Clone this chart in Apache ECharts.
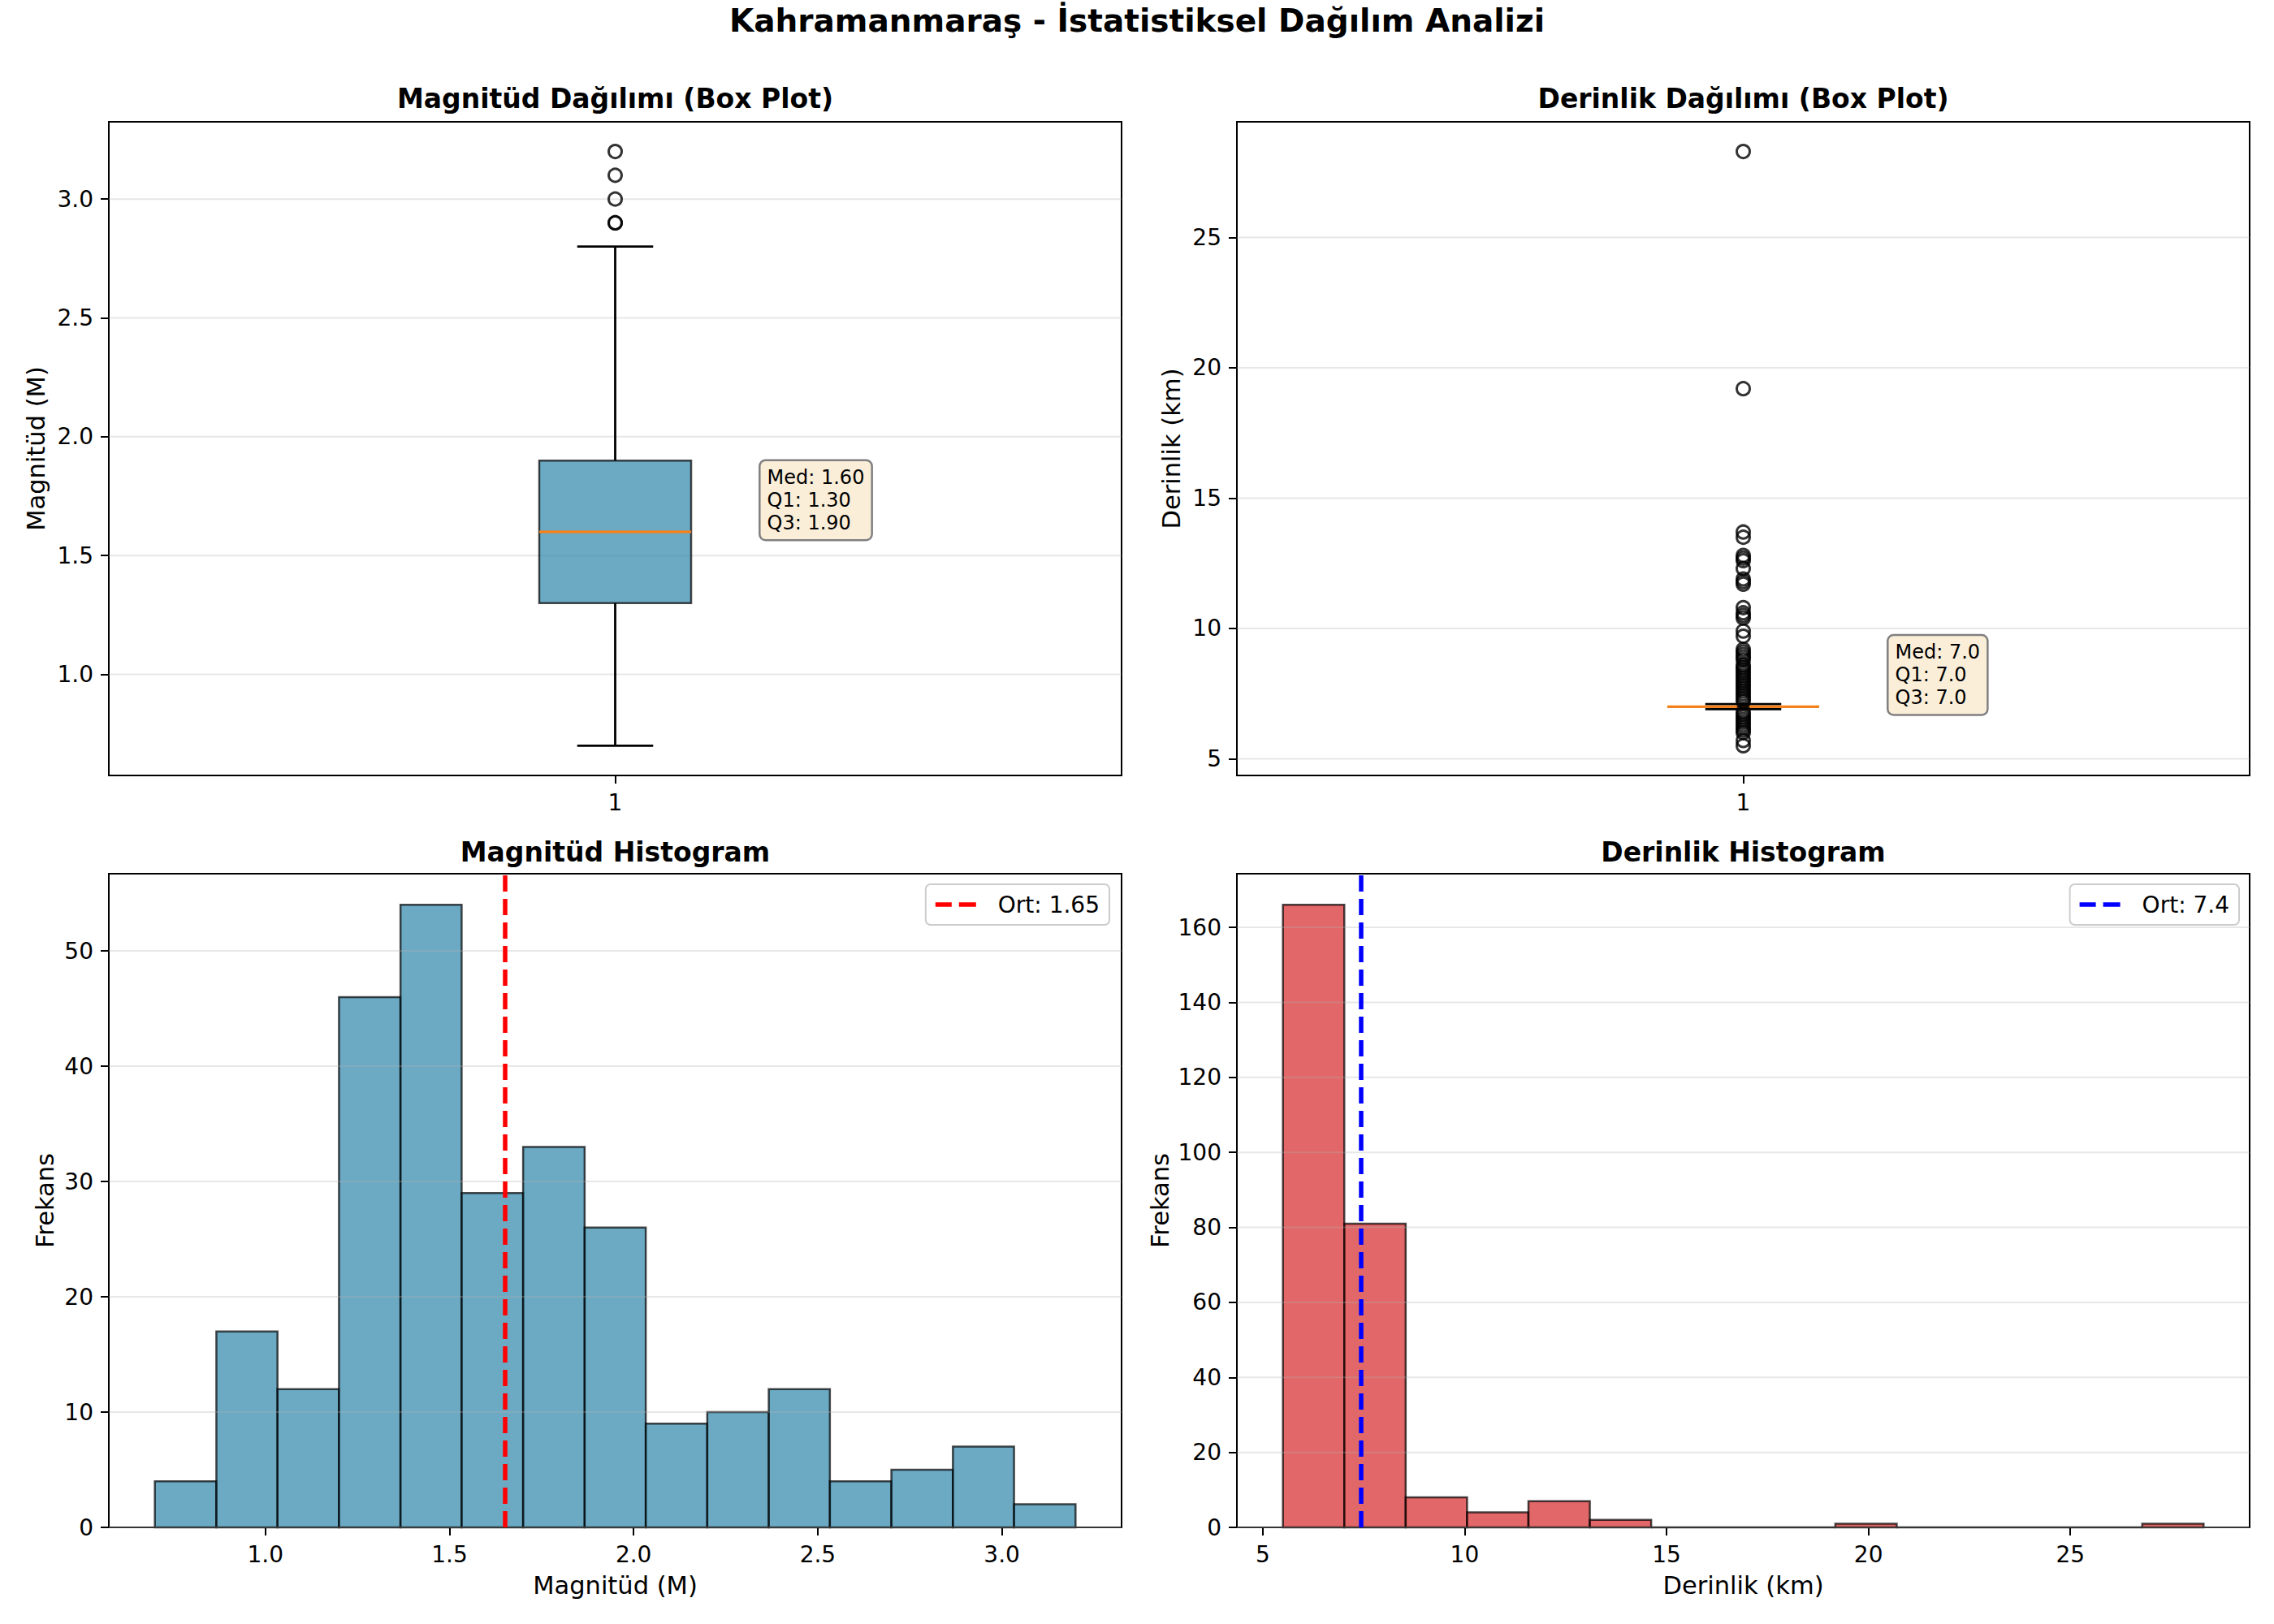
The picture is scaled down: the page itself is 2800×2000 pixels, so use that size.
<!DOCTYPE html>
<html>
<head>
<meta charset="utf-8">
<script src="https://cdn.jsdelivr.net/npm/echarts@6/dist/echarts.min.js"></script>
<style>
html,body{margin:0;padding:0;background:#fff}
#chart{width:2800px;height:2000px}
</style>
</head>
<body>
<div id="chart"></div>
<script>
// box plot stats: [lower whisker, Q1, median, Q3, upper whisker]
var magStats = [0.7, 1.3, 1.6, 1.9, 2.8];
var magOutliers = [2.9, 2.9, 3.0, 3.1, 3.2];
var depStats = [6.9, 7.0, 7.0, 7.0, 7.1];
var depOutliers = [28.3, 19.2, 13.7, 13.5, 12.8, 12.7, 12.6, 12.3, 11.9, 11.8, 11.7,
  10.8, 10.6, 10.5, 10.4, 9.9, 9.7, 9.2, 9.1, 9.0, 8.9, 8.8, 8.6,
  8.5, 8.4, 8.3, 8.2, 8.1, 8.0, 7.9, 7.8, 7.7, 7.6, 7.5, 7.4, 7.3, 7.2,
  6.8, 6.7, 6.6, 6.5, 6.4, 6.3, 6.2, 6.1, 6.0, 5.7, 5.5];

// histograms
var magEdges = [0.7, 0.867, 1.033, 1.2, 1.367, 1.533, 1.7, 1.867, 2.033, 2.2, 2.367, 2.533, 2.7, 2.867, 3.033, 3.2];
var magCounts = [4, 17, 12, 46, 54, 29, 33, 26, 9, 10, 12, 4, 5, 7, 2];
var depEdges = [5.5, 7.02, 8.54, 10.06, 11.58, 13.1, 14.62, 16.14, 17.66, 19.18, 20.7, 22.22, 23.74, 25.26, 26.78, 28.3];
var depCounts = [166, 81, 8, 4, 7, 2, 0, 0, 0, 1, 0, 0, 0, 0, 1];
var magMean = 1.65;
var depMean = 7.44;

// tick labels
var magTicks = [1.0, 1.5, 2.0, 2.5, 3.0];
var depTicks = [5, 10, 15, 20, 25];
var magFreqTicks = [0, 10, 20, 30, 40, 50];
var depFreqTicks = [0, 20, 40, 60, 80, 100, 120, 140, 160];

var FONT = 'DejaVu Sans';
var chart = echarts.init(document.getElementById('chart'), null, {renderer: 'svg'});

function grid(left, top) {
  return {left: left, top: top, width: 1247, height: 805, show: true,
    borderColor: '#000', borderWidth: 2, backgroundColor: '#fff'};
}

function axis(gi, min, max, ticks, digits, name, gap) {
  return {
    type: 'value', gridIndex: gi, min: min, max: max,
    name: name, nameLocation: 'middle', nameGap: gap,
    nameTextStyle: {fontFamily: FONT, fontSize: 30.5, color: '#000'},
    axisLine: {show: false},
    axisTick: {show: true, length: 10, customValues: ticks, lineStyle: {color: '#000', width: 2}},
    axisLabel: {show: true, customValues: ticks, margin: 19, fontFamily: FONT, fontSize: 28, color: '#000',
      formatter: function (v) { return digits == null ? String(v) : v.toFixed(digits); }},
    splitLine: {show: false}
  };
}

function gridLines(gi, xMin, ticks, z) {
  return {
    type: 'custom', xAxisIndex: gi, yAxisIndex: gi, z: z, silent: true,
    data: ticks.map(function (v) { return [xMin, v]; }),
    renderItem: function (params, api) {
      var y = api.coord([api.value(0), api.value(1)])[1];
      var cs = params.coordSys;
      return {type: 'line', shape: {x1: cs.x, y1: y, x2: cs.x + cs.width, y2: y},
        style: {stroke: 'rgba(176,176,176,0.3)', lineWidth: 2}};
    }
  };
}

function boxSeries(gi, stats, digits) {
  return {
    type: 'custom', xAxisIndex: gi, yAxisIndex: gi, z: 3, silent: true,
    data: [[1].concat(stats)],
    encode: {x: 0, y: [1, 2, 3, 4, 5]},
    renderItem: function (params, api) {
      var x = api.value(0), lo = api.value(1), q1 = api.value(2), md = api.value(3), q3 = api.value(4), hi = api.value(5);
      var hw = 0.075, cw = 0.0375;
      function c(a, b) { return api.coord([a, b]); }
      function ln(a, b, col, w) {
        return {type: 'line', shape: {x1: a[0], y1: a[1], x2: b[0], y2: b[1]}, style: {stroke: col, lineWidth: w}};
      }
      var bt = c(x - hw, q3), bb = c(x + hw, q1);
      var tp = c(x + 0.15, md);
      var txt = 'Med: ' + md.toFixed(digits) + '\nQ1: ' + q1.toFixed(digits) + '\nQ3: ' + q3.toFixed(digits);
      return {type: 'group', children: [
        ln(c(x, lo), c(x, q1), '#000', 2.8),
        ln(c(x, q3), c(x, hi), '#000', 2.8),
        ln(c(x - cw, lo), c(x + cw, lo), '#000', 2.8),
        ln(c(x - cw, hi), c(x + cw, hi), '#000', 2.8),
        {type: 'rect', shape: {x: bt[0], y: bt[1], width: bb[0] - bt[0], height: bb[1] - bt[1]},
          style: {fill: 'rgba(46,134,171,0.7)', stroke: 'rgba(0,0,0,0.7)', lineWidth: 2.5}},
        ln(c(x - hw, md), c(x + hw, md), '#ff7f0e', 3),
        {type: 'text', x: tp[0] - 8, y: tp[1] + 9,
          style: {text: txt, fill: '#000', fontFamily: FONT, fontSize: 24, lineHeight: 28,
            align: 'left', verticalAlign: 'bottom',
            backgroundColor: '#faeed9', borderColor: '#808080', borderWidth: 2.5, borderRadius: 6,
            padding: [6, 8, 6, 8]}}
      ]};
    }
  };
}

function outlierSeries(gi, vals) {
  return {
    type: 'scatter', xAxisIndex: gi, yAxisIndex: gi, z: 4, silent: true,
    symbol: 'circle', symbolSize: 16,
    itemStyle: {color: 'rgba(0,0,0,0)', borderColor: '#000', borderWidth: 3},
    data: vals.map(function (v) { return [1, v]; })
  };
}

function histSeries(gi, edges, counts, color) {
  var rows = counts.map(function (n, i) { return [edges[i], edges[i + 1], n]; });
  return {
    type: 'custom', xAxisIndex: gi, yAxisIndex: gi, z: 2, silent: true,
    data: rows, encode: {x: [0, 1], y: 2},
    renderItem: function (params, api) {
      var p0 = api.coord([api.value(0), 0]);
      var p1 = api.coord([api.value(1), api.value(2)]);
      return {type: 'rect', shape: {x: p0[0], y: p1[1], width: p1[0] - p0[0], height: p0[1] - p1[1]},
        style: {fill: color, stroke: 'rgba(0,0,0,0.7)', lineWidth: 2.5}};
    }
  };
}

function meanSeries(gi, name, value, color) {
  var ls = {color: color, type: [20, 9], width: 5.5};
  return {
    type: 'line', name: name, xAxisIndex: gi, yAxisIndex: gi, z: 5,
    data: [], symbol: 'none', lineStyle: ls, itemStyle: {color: color},
    markLine: {silent: true, symbol: ['none', 'none'], label: {show: false}, lineStyle: ls,
      data: [{xAxis: value}]}
  };
}

function legend(name, right) {
  return {
    data: [name], right: right, top: 1089, orient: 'vertical',
    icon: 'path://M0,0H20V5.5H0Z M29,0H50V5.5H29Z', symbolKeepAspect: false,
    itemWidth: 50, itemHeight: 5.5,
    textStyle: {fontFamily: FONT, fontSize: 28, color: '#000', padding: [0, 0, 0, 22]},
    padding: [11, 12, 11, 12], borderColor: '#cccccc', borderWidth: 2, borderRadius: 6,
    backgroundColor: '#fff'
  };
}

function subTitle(text, cx, top) {
  return {text: text, left: cx, top: top, textAlign: 'center', padding: 0,
    textStyle: {fontFamily: FONT, fontSize: 33, fontWeight: 'bold', color: '#000'}};
}

var option = {
  animation: false,
  backgroundColor: '#fff',
  title: [
    {text: 'Kahramanmaraş - İstatistiksel Dağılım Analizi', left: 1400, top: 6, textAlign: 'center', padding: 0,
      textStyle: {fontFamily: FONT, fontSize: 39, fontWeight: 'bold', color: '#000'}},
    subTitle('Magnitüd Dağılımı (Box Plot)', 757.5, 105),
    subTitle('Derinlik Dağılımı (Box Plot)', 2146.5, 105),
    subTitle('Magnitüd Histogram', 757.5, 1033),
    subTitle('Derinlik Histogram', 2146.5, 1033)
  ],
  legend: [legend('Ort: ' + magMean.toFixed(2), 1434), legend('Ort: ' + depMean.toFixed(1), 43)],
  grid: [grid(134, 150), grid(1523, 150), grid(134, 1076), grid(1523, 1076)],
  xAxis: [
    axis(0, 0.5, 1.5, [1], null, '', 0),
    axis(1, 0.5, 1.5, [1], null, '', 0),
    axis(2, 0.575, 3.325, magTicks, 1, 'Magnitüd (M)', 56),
    axis(3, 4.36, 29.44, depTicks, null, 'Derinlik (km)', 56)
  ],
  yAxis: [
    axis(0, 0.575, 3.325, magTicks, 1, 'Magnitüd (M)', 74),
    axis(1, 4.36, 29.44, depTicks, null, 'Derinlik (km)', 65),
    axis(2, 0, 56.7, magFreqTicks, null, 'Frekans', 63),
    axis(3, 0, 174.3, depFreqTicks, null, 'Frekans', 79)
  ],
  series: [
    gridLines(0, 0.5, magTicks, 1),
    boxSeries(0, magStats, 2),
    outlierSeries(0, magOutliers),
    gridLines(1, 0.5, depTicks, 1),
    boxSeries(1, depStats, 1),
    outlierSeries(1, depOutliers),
    histSeries(2, magEdges, magCounts, 'rgba(46,134,171,0.7)'),
    gridLines(2, 0.575, magFreqTicks, 3),
    meanSeries(2, 'Ort: ' + magMean.toFixed(2), magMean, '#ff0000'),
    histSeries(3, depEdges, depCounts, 'rgba(214,39,40,0.7)'),
    gridLines(3, 4.36, depFreqTicks, 3),
    meanSeries(3, 'Ort: ' + depMean.toFixed(1), depMean, '#0000ff')
  ]
};
chart.setOption(option);
</script>
</body>
</html>
